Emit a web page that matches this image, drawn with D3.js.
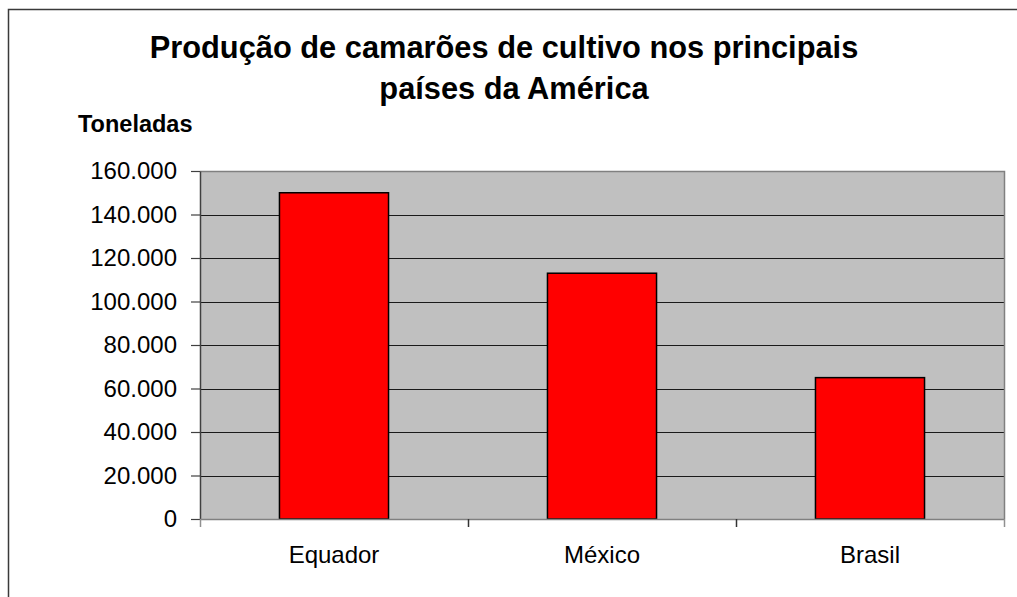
<!DOCTYPE html>
<html>
<head>
<meta charset="utf-8">
<script src="https://cdn.jsdelivr.net/npm/d3@7"></script>
<style>
  html, body { margin: 0; padding: 0; background: #fff; }
  svg { display: block; font-family: "Liberation Sans", Arial, sans-serif; }
</style>
</head>
<body>
<svg id="chart" width="1017" height="597"></svg>
<script>
// data
const categories = ["Equador", "México", "Brasil"];
const toneladas = [150000, 113000, 65000];
const yTicks = [0, 20000, 40000, 60000, 80000, 100000, 120000, 140000, 160000];
const titleLines = ["Produção de camarões de cultivo nos principais", "países da América"];

const svg = d3.select("#chart");
const plot = { left: 200, top: 171, right: 1004, bottom: 519 };

const ptBR = d3.formatLocale({ decimal: ",", thousands: ".", grouping: [3], currency: ["R$", ""] });
const fmt = ptBR.format(",.0f");

// outer frame (right and bottom run off the picture)
svg.append("rect")
    .attr("x", 8.5).attr("y", 9.5)
    .attr("width", 1100).attr("height", 700)
    .style("fill", "none")
    .style("stroke", "#3a3a3a")
    .style("stroke-width", 1.5);

const x = d3.scaleBand()
    .domain(categories)
    .range([plot.left, plot.right])
    .paddingInner(0.593)
    .paddingOuter(0.2965);

const y = d3.scaleLinear()
    .domain([0, 160000])
    .range([plot.bottom, plot.top]);

// plot area background
svg.append("rect")
    .attr("x", plot.left).attr("y", plot.top)
    .attr("width", plot.right - plot.left)
    .attr("height", plot.bottom - plot.top)
    .style("fill", "#c0c0c0");

// grid lines
svg.append("g").selectAll("line")
    .data(yTicks.filter(d => d > 0 && d < 160000))
    .join("line")
    .attr("x1", plot.left).attr("x2", plot.right)
    .attr("y1", d => Math.round(y(d)) + 0.5)
    .attr("y2", d => Math.round(y(d)) + 0.5)
    .style("stroke", "#1a1a1a")
    .style("stroke-width", 1.2);

// top / right border of plot area
svg.append("path")
    .attr("d", `M${plot.left},${plot.top + 0.5}H${plot.right + 0.5}V${plot.bottom}`)
    .style("fill", "none")
    .style("stroke", "#808080")
    .style("stroke-width", 1.5);

// bars
svg.append("g").selectAll("rect")
    .data(categories)
    .join("rect")
    .attr("x", d => x(d))
    .attr("y", (d, i) => y(toneladas[i]))
    .attr("width", x.bandwidth())
    .attr("height", (d, i) => y(0) - y(toneladas[i]))
    .style("fill", "#ff0000")
    .style("stroke", "#000")
    .style("stroke-width", 1.5);

// y axis
const yAxis = svg.append("g")
    .attr("transform", `translate(${plot.left},0)`)
    .call(d3.axisLeft(y).tickValues(yTicks).tickFormat(fmt).tickSize(9).tickPadding(14).tickSizeOuter(0));
yAxis.select(".domain").style("stroke", "#404040").style("stroke-width", 1.5);
yAxis.selectAll(".tick line").style("stroke", "#404040").style("stroke-width", 1.2);
yAxis.selectAll(".tick text")
    .style("font-size", "24px")
    .style("fill", "#000")
    .style("font-family", "'Liberation Sans', Arial, sans-serif");

// x axis
const xAxis = svg.append("g")
    .attr("transform", `translate(0,${plot.bottom})`)
    .call(d3.axisBottom(x).tickSize(0).tickPadding(27));
xAxis.select(".domain")
    .attr("d", `M${plot.left},0.5H${plot.right + 0.5}`)
    .style("stroke", "#808080")
    .style("stroke-width", 1.5);
xAxis.selectAll(".tick text")
    .style("font-size", "24px")
    .style("fill", "#000")
    .style("font-family", "'Liberation Sans', Arial, sans-serif");

// category separators on the x axis
const bounds = d3.range(categories.length + 1).map(i => plot.left + i * x.step());
xAxis.append("g").selectAll("line")
    .data(bounds)
    .join("line")
    .attr("x1", d => Math.round(d) + 0.5).attr("x2", d => Math.round(d) + 0.5)
    .attr("y1", 0).attr("y2", 8)
    .style("stroke", (d, i) => (i === 0 || i === bounds.length - 1) ? "#909090" : "#333")
    .style("stroke-width", 1.5);

// titles
svg.append("g").selectAll("text")
    .data(titleLines)
    .join("text")
    .attr("x", (d, i) => i === 0 ? 504 : 514)
    .attr("y", (d, i) => 58 + i * 41)
    .attr("text-anchor", "middle")
    .style("font-size", "30.8px")
    .style("font-weight", "bold")
    .style("fill", "#000")
    .text(d => d);

svg.append("text")
    .attr("x", 78)
    .attr("y", 132)
    .style("font-size", "23.5px")
    .style("font-weight", "bold")
    .style("fill", "#000")
    .text("Toneladas");
</script>
</body>
</html>
